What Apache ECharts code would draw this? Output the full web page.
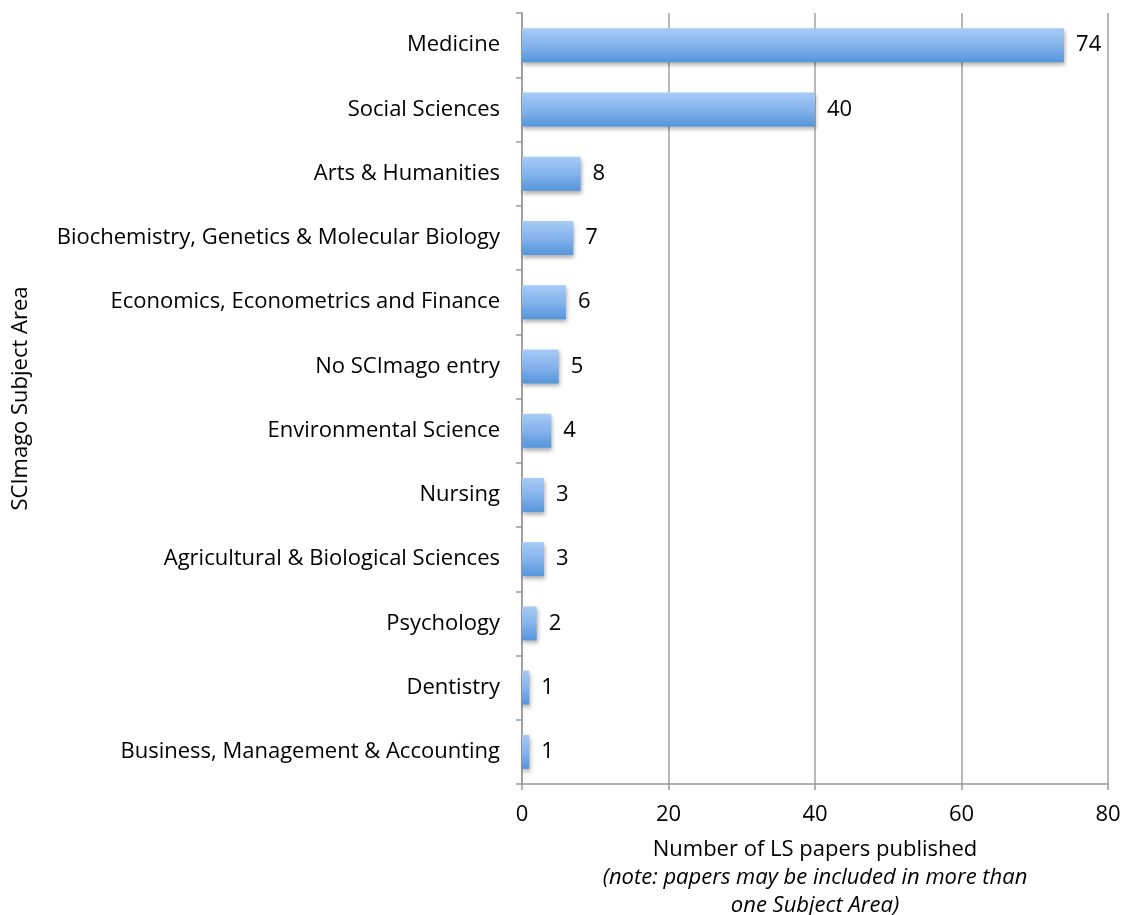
<!DOCTYPE html>
<html><head><meta charset="utf-8">
<script src="https://cdn.jsdelivr.net/npm/echarts@6/dist/echarts.min.js"></script>
<style>html,body{margin:0;padding:0;background:#fff}#c{width:1125px;height:915px}</style>
</head><body><div id="c"></div>
<script>
const categories = ["Medicine","Social Sciences","Arts & Humanities","Biochemistry, Genetics & Molecular Biology","Economics, Econometrics and Finance","No SCImago entry","Environmental Science","Nursing","Agricultural & Biological Sciences","Psychology","Dentistry","Business, Management & Accounting"];
const values = [74,40,8,7,6,5,4,3,3,2,1,1];
const xTicks = [0,20,40,60,80];
const FONT = "Open Sans";
const FS = 22;
const chart = echarts.init(document.getElementById('c'));
chart.setOption({
  animation:false,
  grid:{left:522,right:17,top:13,bottom:131,containLabel:false,outerBoundsMode:'none'},
  xAxis:{type:'value',min:xTicks[0],max:xTicks[xTicks.length-1],interval:20,
    axisLine:{show:true,lineStyle:{color:'#999',width:1.5}},
    axisTick:{show:true,length:6,lineStyle:{color:'#999',width:1.5}},
    splitLine:{show:true,lineStyle:{color:'#a0a0a0',width:1.5}},
    axisLabel:{color:'#000',fontSize:FS,fontFamily:FONT,margin:20},
    name:'{a|Number of LS papers published}\n{b|(note: papers may be included in more than}\n{b|one Subject Area)}',
    nameLocation:'middle',nameGap:52,
    nameTextStyle:{color:'#000',fontFamily:FONT,lineHeight:28,verticalAlign:'top',
      rich:{a:{fontSize:FS,fontFamily:FONT,color:'#000',lineHeight:28},b:{fontSize:FS,fontFamily:FONT,fontStyle:'italic',color:'#000',lineHeight:28}}}
  },
  yAxis:{type:'category',data:categories,inverse:true,
    axisLine:{show:true,lineStyle:{color:'#999',width:1.5}},
    axisTick:{show:true,length:6,lineStyle:{color:'#999',width:1.5}},
    axisLabel:{color:'#000',fontSize:FS,fontFamily:FONT,margin:22,padding:[4,0,0,0]},
    name:'SCImago Subject Area',nameLocation:'middle',nameGap:490,nameRotate:90,
    nameTextStyle:{color:'#000',fontSize:FS,fontFamily:FONT}
  },
  series:[{type:'bar',data:values,barWidth:34,
    itemStyle:{color:new echarts.graphic.LinearGradient(0,0,0,1,[{offset:0,color:'#a8cbf6'},{offset:0.5,color:'#85b3ec'},{offset:1,color:'#5596dc'}]),
      shadowColor:'rgba(0,0,0,0.3)',shadowBlur:4,shadowOffsetY:3,shadowOffsetX:1},
    label:{show:true,position:'right',distance:12,color:'#000',fontSize:FS,fontFamily:FONT,padding:[4,0,0,0]}
  }]
});
</script></body></html>
